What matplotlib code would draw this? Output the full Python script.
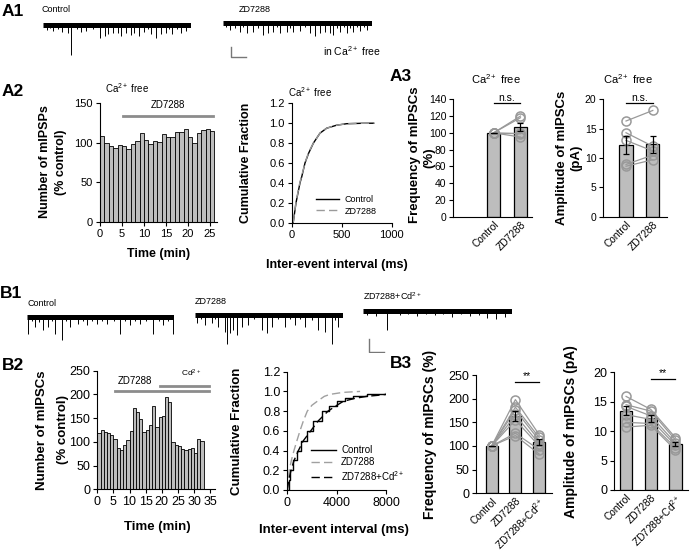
import matplotlib
matplotlib.use('Agg')
import matplotlib.pyplot as plt
import numpy as np

plt.rcParams['font.family'] = ['Liberation Sans', 'DejaVu Sans']
plt.rcParams['mathtext.fontset'] = 'custom'
plt.rcParams['mathtext.rm'] = 'Liberation Sans'
plt.rcParams['mathtext.it'] = 'Liberation Sans:italic'
plt.rcParams['mathtext.bf'] = 'Liberation Sans:bold'
plt.rcParams['axes.linewidth'] = 0.8

# ---------------- DATA ----------------
# A1 traces: event times (s) and amplitudes (pA)
a1_ctrl_t = [0.27, 0.50, 0.72, 1.00, 1.28, 1.72, 1.88, 2.30, 2.62, 2.95, 3.40, 3.85, 4.18, 4.41,
             4.74, 5.08, 5.30, 5.64, 5.97, 6.20, 6.53, 6.87, 7.10, 7.32, 7.65, 7.99, 8.32, 8.55,
             8.77, 9.05, 9.33, 9.66]
a1_ctrl_amp = [5, 3, 6, 4, 7, 8, 30, 4, 7, 6, 4, 13, 11, 9, 8, 8, 11, 8, 10, 8, 11, 7, 4, 9, 13,
               9, 8, 4, 9, 4, 8, 6]
a1_zd_t = [0.20, 0.45, 0.80, 1.12, 1.35, 1.57, 2.02, 2.35, 2.70, 3.03, 3.37, 3.60, 3.82, 4.27,
           4.50, 4.72, 5.17, 5.50, 5.84, 6.18, 6.52, 6.85, 7.19, 7.42, 7.65, 7.87, 8.10, 8.31,
           8.55, 8.76, 9.00, 9.21, 9.45, 9.66]
a1_zd_amp = [4, 7, 5, 9, 4, 10, 9, 5, 12, 10, 9, 4, 10, 9, 5, 9, 8, 4, 10, 13, 10, 9, 10, 12,
             5, 9, 4, 10, 5, 9, 4, 8, 4, 7]

# B1 traces
b1_ctrl_t = [0.11, 0.35, 0.57, 0.85, 1.13, 1.47, 1.70, 1.92, 2.38, 2.65, 2.94, 3.51, 3.80, 4.07,
             4.40, 4.75, 5.10, 5.43, 5.90, 6.33, 6.65, 7.01, 7.35, 7.69, 8.10, 8.60, 8.95, 9.28,
             9.60, 9.95]
b1_ctrl_amp = [17, 4, 10, 5, 13, 10, 4, 17, 23, 4, 10, 7, 4, 8, 4, 7, 4, 7, 4, 17, 4, 8, 4, 7,
               4, 17, 4, 8, 4, 17]
b1_zd_t = [0.11, 0.40, 0.67, 1.12, 1.35, 1.57, 2.02, 2.13, 2.36, 2.58, 2.81, 3.15, 3.60, 4.00,
           4.49, 4.83, 5.17, 5.60, 6.07, 6.40, 6.74, 7.10, 7.42, 7.90, 8.31, 8.76, 9.21, 9.45,
           9.66]
b1_zd_amp = [8, 4, 10, 8, 4, 12, 17, 29, 18, 15, 20, 12, 10, 4, 15, 18, 12, 4, 12, 4, 10, 4, 12,
             5, 15, 17, 29, 5, 12]
b1_cd_t = [0.3, 0.9, 1.6, 2.5, 3.0, 3.6, 4.2, 4.8, 5.4, 6.0, 6.6, 7.2, 7.8, 8.3, 8.9, 9.5]
b1_cd_amp = [4, 5, 19, 4, 3, 5, 3, 4, 3, 6, 3, 5, 4, 7, 8, 6]

# A2 time course (% control), 1-min bins
a2_time = list(range(26))
a2_counts = [109, 100, 96, 94, 97, 96, 92, 99, 102, 112, 104, 99, 102, 101, 111, 108, 108,
             114, 114, 118, 108, 100, 113, 116, 117, 115]

# A2 cumulative distributions
a2_x = [15, 43, 83, 100, 133, 170, 217, 283, 350, 450, 550, 700, 820]
a2_ctrl_y = [0.0, 0.2, 0.4, 0.46, 0.6, 0.7, 0.8, 0.9, 0.95, 0.98, 0.995, 0.999, 1.0]
a2_zd_y = [0.0, 0.21, 0.41, 0.47, 0.6, 0.71, 0.8, 0.9, 0.95, 0.98, 0.995, 0.999, 1.0]

# A3 frequency / amplitude
a3_groups = ['Control', 'ZD7288']
a3_freq_mean = [100, 107]
a3_freq_err = [0, 5]
a3_freq_ctrl = [100, 100, 100, 100, 100]
a3_freq_zd = [120, 118, 100, 95, 99]
a3_amp_mean = [12.2, 12.3]
a3_amp_err = [1.5, 1.4]
a3_amp_ctrl = [16.3, 14.3, 13.0, 8.9, 8.6]
a3_amp_zd = [18.1, 12.0, 11.2, 10.5, 9.7]

# B2 time course
b2_time = list(range(33))
b2_counts = [119, 125, 120, 119, 114, 106, 88, 82, 93, 104, 122, 171, 162, 148, 121, 126, 135,
             176, 131, 152, 155, 195, 185, 99, 94, 92, 84, 82, 84, 87, 76, 106, 101]

# B2 cumulative distributions
b2_ctrl_x = [0, 100, 216, 450, 757, 1100, 1570, 2100, 2780, 3400, 4000, 4700, 5350, 6500, 8000]
b2_ctrl_y = [0, 0.1, 0.2, 0.3, 0.4, 0.5, 0.6, 0.7, 0.8, 0.85, 0.9, 0.93, 0.95, 0.97, 0.98]
b2_zd_x = [0, 80, 160, 330, 540, 780, 1027, 1300, 1620, 2000, 2430, 3000, 3460, 4500, 5900]
b2_zd_y = [0, 0.1, 0.2, 0.3, 0.4, 0.5, 0.6, 0.7, 0.8, 0.86, 0.9, 0.95, 0.97, 0.99, 1.0]
b2_cd_x = [0, 120, 300, 550, 900, 1300, 1900, 2500, 3300, 3900, 4540, 5500, 6430, 7300, 8000]
b2_cd_y = [0, 0.1, 0.2, 0.3, 0.4, 0.5, 0.6, 0.7, 0.8, 0.85, 0.9, 0.93, 0.95, 0.96, 0.97]

# B3 frequency / amplitude
b3_groups = ['Control', 'ZD7288', 'ZD7288+Cd$^{2+}$']
b3_freq_mean = [100, 163, 108]
b3_freq_err = [0, 10, 6]
b3_freq_ctrl = [100, 100, 100, 100, 100, 100, 100]
b3_freq_zd = [198, 182, 176, 165, 155, 127, 122]
b3_freq_cd = [124, 118, 112, 105, 100, 92, 83]
b3_amp_mean = [13.5, 12.2, 7.8]
b3_amp_err = [0.8, 0.6, 0.4]
b3_amp_ctrl = [15.9, 14.5, 14.2, 12.8, 11.5, 10.7]
b3_amp_zd = [13.7, 13.4, 12.6, 12.0, 11.3, 11.0]
b3_amp_cd = [8.9, 8.5, 8.0, 7.6, 7.2, 6.8]

# ---------------- FIGURE ----------------
W, H = 694, 551
fig = plt.figure(figsize=(W / 100, H / 100), dpi=100)

BAR = '#bdbdbd'
LGRAY = '#999999'
PANEL = 12.5


def rect(x0, y0, x1, y1):
    return [x0 / W, 1 - y1 / H, (x1 - x0) / W, (y1 - y0) / H]


def ftext(x, y, s, **kw):
    fig.text(x / W, 1 - y / H, s, **kw)


def vlabel(x, y, s, fs):
    ftext(x, y, s, rotation=90, ha='center', va='center', fontsize=fs, fontweight='bold')


def style(ax, tick):
    for s in ['top', 'right']:
        ax.spines[s].set_visible(False)
    ax.tick_params(labelsize=tick, width=0.8, length=3, pad=2)


def trace(box, t, amp, ylim, scalebar=None):
    ax = fig.add_axes(rect(*box))
    ax.axis('off')
    ax.set_xlim(0, 10)
    ax.set_ylim(*ylim)
    ax.plot([0, 10], [0, 0], color='k', lw=3.6, solid_capstyle='butt')
    ax.vlines(t, [-a for a in amp], 1.5, color='k', lw=0.7)
    if scalebar is not None:
        t0, y0, dt, da = scalebar
        ax.plot([t0, t0, t0 + dt], [y0 + da, y0, y0], color='#777777', lw=1.0)
    return ax


# ---- A1 ----
ftext(2, 11, 'A1', fontsize=PANEL, fontweight='bold', va='center')
ftext(41, 10, 'Control', fontsize=6.5, va='center')
ftext(239, 10, 'ZD7288', fontsize=6.5, va='center')
ftext(323, 51, 'in Ca$^{2+}$ free', fontsize=7.5, va='center')
trace((42.7, 15, 190.7, 59), a1_ctrl_t, a1_ctrl_amp, (-34, 10))
trace((223.3, 13, 371.7, 59), a1_zd_t, a1_zd_amp, (-36, 10), scalebar=(0.52, -34, 1.0, 10))

# ---- A2 bar ----
ftext(2, 92, 'A2', fontsize=PANEL, fontweight='bold', va='center')
ax = fig.add_axes(rect(100, 103.3, 216.6, 222))
style(ax, 8)
ax.bar(a2_time, a2_counts, width=1, align='edge', color=BAR, edgecolor='k', lw=0.6)
ax.set_xlim(0, 26.5)
ax.set_ylim(0, 150)
ax.set_yticks([0, 50, 100, 150])
ax.set_xticks([0, 5, 10, 15, 20, 25])
ax.plot([5.2, 25.75], [134, 134], color='#8c8c8c', lw=2)
ax.text(15.5, 141, 'ZD7288', fontsize=7, ha='center', va='bottom')
vlabel(45, 162, 'Number of mIPSPs', 9)
vlabel(61, 162, '(% control)', 9)
ax.set_xlabel('Time (min)', fontsize=9, fontweight='bold')
ax.xaxis.set_label_coords(0.5, -0.22)
ftext(127, 88, 'Ca$^{2+}$ free', fontsize=7, ha='center', va='center')

# ---- A2 cumulative ----
ax = fig.add_axes(rect(291.7, 103.3, 391.7, 222.7))
style(ax, 8)
ax.plot(a2_x, a2_ctrl_y, color='k', lw=1.0, label='Control')
ax.plot(a2_x, a2_zd_y, color='#9a9a9a', lw=1.0, ls=(0, (6, 3)), label='ZD7288')
ax.set_xlim(0, 1000)
ax.set_ylim(0, 1.2)
ax.set_xticks([0, 500, 1000])
ax.set_yticks([0.0, 0.2, 0.4, 0.6, 0.8, 1.0, 1.2])
ax.set_yticklabels(['0.0', '0.2', '0.4', '0.6', '0.8', '1.0', '1.2'])
ax.set_ylabel('Cumulative Fraction', fontsize=9, fontweight='bold')
ax.yaxis.set_label_coords(-0.40, 0.5)
ax.set_xlabel('Inter-event interval (ms)', fontsize=9, fontweight='bold')
ax.xaxis.set_label_coords(0.45, -0.30)
ax.legend(loc='lower left', bbox_to_anchor=(0.24, 0.06), frameon=False, fontsize=6.5,
          handlelength=2.6, handletextpad=0.6, labelspacing=0.3, borderpad=0, borderaxespad=0)
ax.text(0.18, 1.04, 'Ca$^{2+}$ free', transform=ax.transAxes, fontsize=7, ha='center',
        va='bottom')


def paired(ax, means, errs, pts, xlim, ylim, yticks, labels, tick):
    style(ax, tick)
    xs = list(range(len(means)))
    ax.bar(xs, means, width=0.5, color=BAR, edgecolor='k', lw=0.9, zorder=1)
    for cell in zip(*pts):
        ax.plot(xs, cell, color=LGRAY, lw=0.9, zorder=2)
        ax.plot(xs, cell, 'o', ms=6.5, mfc='none', mec=LGRAY, mew=1.1, zorder=3)
    ax.errorbar(xs, means, yerr=errs, fmt='none', ecolor='k', elinewidth=0.9, capsize=2.5,
                capthick=0.9, zorder=4)
    ax.set_xlim(*xlim)
    ax.set_ylim(*ylim)
    ax.set_yticks(yticks)
    ax.set_xticks(xs)
    ax.set_xticklabels(labels, rotation=45, ha='right', rotation_mode='anchor', fontsize=7.3)
    ax.tick_params(axis='x', length=0, pad=2)


def sig(ax, x0, x1, y, ytxt, s, fs=7.5):
    ax.plot([x0, x1], [y, y], color='k', lw=0.9, clip_on=False)
    ax.text((x0 + x1) / 2, ytxt, s, ha='center', va='bottom', fontsize=fs, clip_on=False)


# ---- A3 ----
ftext(390, 76, 'A3', fontsize=PANEL, fontweight='bold', va='center')
ax = fig.add_axes(rect(453.3, 99.3, 531.7, 216.7))
paired(ax, a3_freq_mean, a3_freq_err, [a3_freq_ctrl, a3_freq_zd], (-1.5, 1.42), (0, 140),
       [0, 20, 40, 60, 80, 100, 120, 140], a3_groups, 7.5)
sig(ax, 0, 1, 135, 136, 'n.s.')
vlabel(415, 155, 'Frequency of mIPSCs', 9.5)
vlabel(429.5, 158, '(%)', 9.5)
ftext(496, 79, 'Ca$^{2+}$ free', fontsize=8, ha='center', va='center')

ax = fig.add_axes(rect(603.3, 99.3, 666.7, 216.7))
paired(ax, a3_amp_mean, a3_amp_err, [a3_amp_ctrl, a3_amp_zd], (-0.85, 1.52), (0, 20),
       [0, 5, 10, 15, 20], a3_groups, 7.5)
sig(ax, 0, 1, 19.3, 19.45, 'n.s.')
vlabel(561.5, 158, 'Amplitude of mIPSCs', 9.5)
vlabel(576, 158, '(pA)', 9.5)
ftext(628, 79, 'Ca$^{2+}$ free', fontsize=8, ha='center', va='center')

# ---- B1 ----
ftext(0, 293, 'B1', fontsize=PANEL, fontweight='bold', va='center')
ftext(27, 304, 'Control', fontsize=6.5, va='center')
ftext(195, 302, 'ZD7288', fontsize=6.5, va='center')
ftext(363, 296, 'ZD7288+Cd$^{2+}$', fontsize=6.5, va='center')
trace((26.7, 306.7, 174, 346.7), b1_ctrl_t, b1_ctrl_amp, (-30, 10))
trace((195, 305, 343.3, 347), b1_zd_t, b1_zd_amp, (-32, 10))
trace((363, 301, 512, 353), b1_cd_t, b1_cd_amp, (-42, 10), scalebar=(0.42, -40.7, 1.0, 13))

# ---- B2 bar ----
ftext(2, 366, 'B2', fontsize=PANEL, fontweight='bold', va='center')
ax = fig.add_axes(rect(97.3, 370.7, 215, 489.3))
style(ax, 9)
ax.bar(b2_time, b2_counts, width=1, align='edge', color=BAR, edgecolor='k', lw=0.6)
ax.set_xlim(0, 36.5)
ax.set_ylim(0, 250)
ax.set_yticks([0, 50, 100, 150, 200, 250])
ax.set_xticks([0, 5, 10, 15, 20, 25, 30, 35])
ax.tick_params(axis='x', pad=2)
ax.plot([5.5, 34.5], [207, 207], color='#8c8c8c', lw=2)
ax.plot([19.5, 34.5], [218, 218], color='#8c8c8c', lw=2)
ax.text(11.7, 218, 'ZD7288', fontsize=7, ha='center', va='bottom')
ax.text(29.1, 233, 'Cd$^{2+}$', fontsize=6, ha='center', va='bottom')
vlabel(42, 430, 'Number of mIPSCs', 9.5)
vlabel(63, 430, '(% control)', 9.5)
ax.set_xlabel('Time (min)', fontsize=9.5, fontweight='bold')
ax.xaxis.set_label_coords(0.51, -0.27)

# ---- B2 cumulative ----
ax = fig.add_axes(rect(287.3, 371.7, 386, 490))
style(ax, 9)
ax.plot(b2_ctrl_x, b2_ctrl_y, color='k', lw=1.0, drawstyle='steps-post', label='Control')
ax.plot(b2_zd_x, b2_zd_y, color='#a0a0a0', lw=1.0, ls=(0, (6, 3)), label='ZD7288')
ax.plot(b2_cd_x, b2_cd_y, color='k', lw=1.0, ls=(0, (6, 3)), label='ZD7288+Cd$^{2+}$')
ax.set_xlim(0, 8000)
ax.set_ylim(0, 1.2)
ax.set_xticks([0, 4000, 8000])
ax.set_yticks([0.0, 0.2, 0.4, 0.6, 0.8, 1.0, 1.2])
ax.set_yticklabels(['0.0', '0.2', '0.4', '0.6', '0.8', '1.0', '1.2'])
ax.set_ylabel('Cumulative Fraction', fontsize=9.5, fontweight='bold')
ax.yaxis.set_label_coords(-0.45, 0.5)
ax.set_xlabel('Inter-event interval (ms)', fontsize=9.5, fontweight='bold')
ax.xaxis.set_label_coords(0.47, -0.29)
ax.legend(loc='lower left', bbox_to_anchor=(0.24, 0.06), frameon=False, fontsize=7,
          handlelength=2.6, handletextpad=0.5, labelspacing=0.2, borderpad=0, borderaxespad=0)

# ---- B3 ----
ftext(390, 363, 'B3', fontsize=PANEL, fontweight='bold', va='center')
ax = fig.add_axes(rect(476, 375, 551.7, 493.3))
paired(ax, b3_freq_mean, b3_freq_err, [b3_freq_ctrl, b3_freq_zd, b3_freq_cd], (-0.66, 2.53),
       (0, 250), [0, 50, 100, 150, 200, 250], b3_groups, 9)
sig(ax, 1, 2, 236, 238, '**')
ax.set_ylabel('Frequency of mIPSCs (%)', fontsize=10, fontweight='bold')
ax.yaxis.set_label_coords(-0.52, 0.5)

ax = fig.add_axes(rect(614, 372.3, 688, 490))
paired(ax, b3_amp_mean, b3_amp_err, [b3_amp_ctrl, b3_amp_zd, b3_amp_cd], (-0.49, 2.51),
       (0, 20), [0, 5, 10, 15, 20], b3_groups, 9)
sig(ax, 1, 2, 18.8, 18.95, '**')
ax.set_ylabel('Amplitude of mIPSCs (pA)', fontsize=10, fontweight='bold')
ax.yaxis.set_label_coords(-0.48, 0.5)

fig.savefig('out.png', dpi=100)
